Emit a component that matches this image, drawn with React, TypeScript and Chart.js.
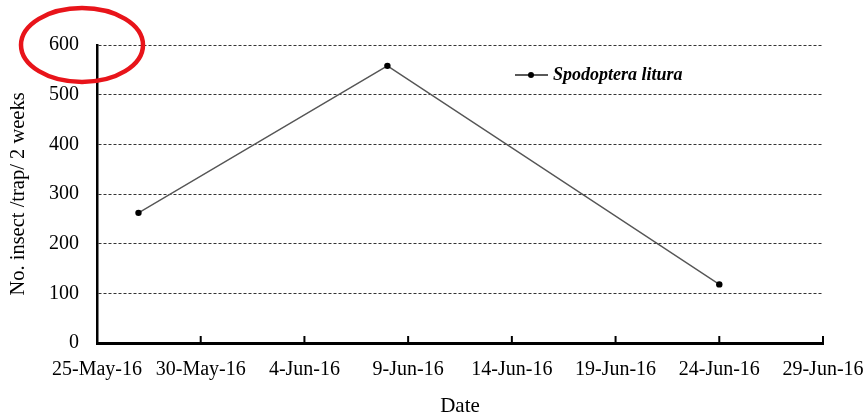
import { useEffect, useRef } from 'react';
import { Chart, registerables } from 'chart.js';

Chart.register(...registerables);

const startDate = '2016-05-25';
const sampleDates = ['2016-05-27', '2016-06-08', '2016-06-24'];
const insectCounts = [262, 558, 118];
const xTickLabels = ['25-May-16', '30-May-16', '4-Jun-16', '9-Jun-16', '14-Jun-16', '19-Jun-16', '24-Jun-16', '29-Jun-16'];
const yTickValues = [0, 100, 200, 300, 400, 500, 600];
const seriesName = 'Spodoptera litura';
const yTitle = 'No. insect /trap/ 2 weeks';
const xTitle = 'Date';

const DAY = 86400000;
const dayOffset = (d: string) => (Date.parse(d) - Date.parse(startDate)) / DAY;

const FONT = "'Liberation Serif', 'Times New Roman', serif";

export default function App() {
  const ref = useRef<HTMLCanvasElement | null>(null);

  useEffect(() => {
    if (!ref.current) return;
    const points = sampleDates.map((d, i) => ({ x: dayOffset(d), y: insectCounts[i] }));

    const extras = {
      id: 'extras',
      afterDraw(chart: any) {
        const ctx = chart.ctx;
        const ca = chart.chartArea;
        const xs = chart.scales.x;
        const ys = chart.scales.y;
        ctx.save();
        // inward x tick marks
        ctx.strokeStyle = '#000';
        ctx.lineWidth = 2;
        ctx.beginPath();
        xs.ticks.forEach((t: any) => {
          const px = xs.getPixelForValue(t.value);
          ctx.moveTo(px, ca.bottom);
          ctx.lineTo(px, ca.bottom - 7);
        });
        ctx.stroke();
        // legend
        const lx = ca.left + 418;
        const ly = ca.top + 30;
        ctx.strokeStyle = '#222';
        ctx.lineWidth = 1.3;
        ctx.beginPath();
        ctx.moveTo(lx, ly);
        ctx.lineTo(lx + 33, ly);
        ctx.stroke();
        ctx.fillStyle = '#000';
        ctx.beginPath();
        ctx.arc(lx + 16, ly, 3, 0, Math.PI * 2);
        ctx.fill();
        ctx.font = `italic bold 18px ${FONT}`;
        ctx.textBaseline = 'middle';
        ctx.textAlign = 'left';
        ctx.fillText(seriesName, lx + 38, ly);
        // red ellipse annotation
        const ey = ys.getPixelForValue(yTickValues[yTickValues.length - 1]);
        ctx.strokeStyle = '#e8141a';
        ctx.lineWidth = 4.5;
        ctx.beginPath();
        ctx.ellipse(ca.left - 15, ey, 61, 37, 0, 0, Math.PI * 2);
        ctx.stroke();
        ctx.restore();
      },
    };

    const chart = new Chart(ref.current, {
      type: 'line',
      data: {
        datasets: [
          {
            label: seriesName,
            data: points,
            borderColor: '#555',
            borderWidth: 1.3,
            pointRadius: 3.2,
            pointBackgroundColor: '#000',
            pointBorderWidth: 0,
            tension: 0,
          },
        ],
      },
      options: {
        responsive: false,
        animation: false,
        layout: { padding: { top: 45, right: 44, left: 0, bottom: 0 } },
        plugins: { legend: { display: false }, tooltip: { enabled: false } },
        scales: {
          x: {
            type: 'linear',
            min: 0,
            max: 35,
            afterFit: (s: any) => {
              s.height = 76;
              s.paddingLeft = 0;
              s.paddingRight = 0;
            },
            afterBuildTicks: (s: any) => {
              s.ticks = xTickLabels.map((_, i) => ({ value: i * 5 }));
            },
            ticks: {
              autoSkip: false,
              maxRotation: 0,
              padding: 15,
              color: '#000',
              font: { family: FONT, size: 20 },
              callback: (v: any) => xTickLabels[Math.round(Number(v) / 5)],
            },
            grid: { display: false, drawTicks: false },
            border: { display: true, color: '#000', width: 3 },
            title: { display: true, text: xTitle, color: '#000', font: { family: FONT, size: 21 }, padding: { top: 4, bottom: 0 } },
          },
          y: {
            min: 0,
            max: 600,
            afterFit: (s: any) => { s.width = 97; },
            afterBuildTicks: (s: any) => {
              s.ticks = yTickValues.map((v) => ({ value: v }));
            },
            ticks: {
              padding: 18,
              color: '#000',
              font: { family: FONT, size: 20 },
            },
            grid: { color: '#333', lineWidth: 1, drawTicks: false },
            border: { display: true, color: '#000', width: 2.5, dash: [3, 2] },
            title: { display: true, text: yTitle, color: '#000', font: { family: FONT, size: 20.5 }, padding: { top: 6, bottom: 4 } },
          },
        },
      },
      plugins: [extras],
    });
    return () => chart.destroy();
  }, []);

  return (
    <div style={{ position: 'absolute', left: 0, top: 0 }}>
      <canvas ref={ref} width={867} height={419} style={{ display: 'block' }} />
    </div>
  );
}
